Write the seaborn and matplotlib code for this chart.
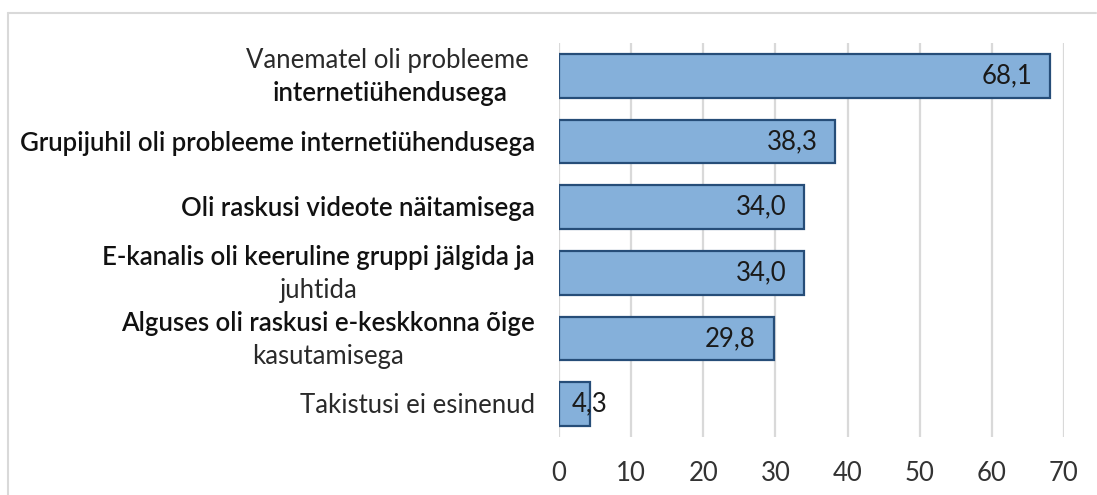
import matplotlib
matplotlib.use("Agg")
import matplotlib.pyplot as plt
from matplotlib.lines import Line2D
import matplotlib.transforms as mtransforms
import seaborn as sns
import pandas as pd

# ---- data ----
categories = [
    "Vanematel oli probleeme internetiühendusega",
    "Grupijuhil oli probleeme internetiühendusega",
    "Oli raskusi videote näitamisega",
    "E-kanalis oli keeruline gruppi jälgida ja juhtida",
    "Alguses oli raskusi e-keskkonna õige kasutamisega",
    "Takistusi ei esinenud",
]
values = [68.1, 38.3, 34.0, 34.0, 29.8, 4.3]
# label lines: (text, bold?)
label_lines = [
    [("Vanematel oli probleeme ", False), ("internetiühendusega", True)],
    [("Grupijuhil oli probleeme internetiühendusega", True)],
    [("Oli raskusi videote näitamisega", True)],
    [("E-kanalis oli keeruline gruppi jälgida ja", True), ("juhtida", False)],
    [("Alguses oli raskusi e-keskkonna õige", True), ("kasutamisega", False)],
    [("Takistusi ei esinenud", False)],
]
xticks = [0, 10, 20, 30, 40, 50, 60, 70]

df = pd.DataFrame({"cat": categories, "val": values})

sns.set_theme(style="white")
FONT = ["Lato", "DejaVu Sans"]
plt.rcParams["font.family"] = FONT

W, H, DPI = 1097, 495, 100
fig = plt.figure(figsize=(W / DPI, H / DPI), dpi=DPI)
ax = fig.add_axes([559 / W, 1 - 437 / H, (1064 - 559) / W, (437 - 43) / H])

sns.barplot(data=df, y="cat", x="val", orient="h", color="#85B0DA",
            edgecolor="#264D78", linewidth=1.6, width=0.67, saturation=1, ax=ax)

ax.set_xlim(0, 70)
ax.set_xticks(xticks)
ax.set_xticklabels([str(t) for t in xticks], fontsize=18.5, color="#333333",
                   fontweight="normal")
ax.tick_params(axis="x", length=0, pad=17)
ax.set_yticks(range(len(categories)))
ax.set_yticklabels([])
ax.tick_params(axis="y", length=0)
ax.set_xlabel("")
ax.set_ylabel("")
for s in ax.spines.values():
    s.set_visible(False)
ax.xaxis.grid(True, color="#D9D9D9", linewidth=1.6)
ax.set_axisbelow(True)

# value labels
for i, v in enumerate(values):
    txt = f"{v:.1f}".replace(".", ",")
    if v < 10:
        ax.annotate(txt, xy=(v, i), xytext=(0, 0), textcoords="offset points",
                    ha="center", va="center", fontsize=18.5, color="#1a1a1a",
                    fontweight="normal")
    else:
        ax.annotate(txt, xy=(v, i), xytext=(-13, 0), textcoords="offset points",
                    ha="right", va="center", fontsize=18.5, color="#1a1a1a",
                    fontweight="normal")

# category labels (mixed weights, centered lines, right-aligned block)
trans = mtransforms.blended_transform_factory(ax.transAxes, ax.transData)
right_px = 24  # gap from axis to label block (pixels)
line_h = 33    # line spacing in px
fig.canvas.draw()
renderer = fig.canvas.get_renderer()
for i, lines in enumerate(label_lines):
    n = len(lines)
    texts = []
    for j, (s, bold) in enumerate(lines):
        dy = (n - 1) / 2 * line_h - j * line_h - 1.5
        t = ax.text(0, i, s, transform=trans, ha="center", va="center",
                    fontsize=18.5, color="#111111" if bold else "#2a2a2a",
                    fontweight="semibold" if bold else "normal")
        texts.append((t, dy))
    widths = [t.get_window_extent(renderer).width for t, _ in texts]
    maxw = max(widths)
    cx = -(right_px + maxw / 2)
    for t, dy in texts:
        t.set_transform(trans + mtransforms.ScaledTranslation(cx / DPI, dy / DPI,
                                                               fig.dpi_scale_trans))

# outer chart frame (partial)
fig.add_artist(Line2D([8 / W, 8 / W], [0, 1 - 13 / H], transform=fig.transFigure,
                      color="#D9D9D9", linewidth=1.5))
fig.add_artist(Line2D([8 / W, 1096 / W], [1 - 13 / H, 1 - 13 / H],
                      transform=fig.transFigure, color="#D9D9D9", linewidth=1.5))

fig.savefig("out.png", dpi=DPI)
